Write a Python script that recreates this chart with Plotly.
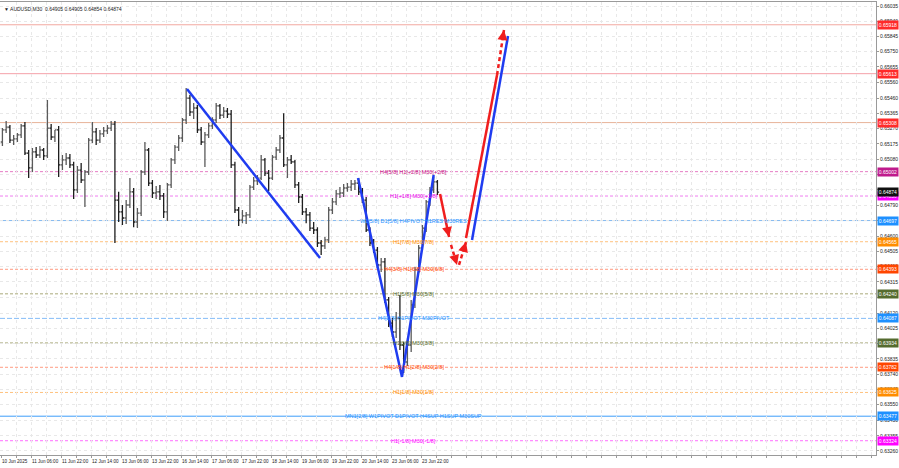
import plotly.graph_objects as go

# ---------------- data (AUDUSD M30, drawn as 2-hour bars) ----------------
opens = [0.65187,0.65262,0.65280,0.65199,0.65206,0.65231,0.65287,0.65118,0.65025,0.65125,
         0.65106,0.65137,0.65100,0.65274,0.65218,0.65262,0.65044,0.65075,0.65087,0.65044,
         0.64888,0.65012,0.64950,0.65000,0.65199,0.65250,0.65199,0.65237,0.65256,0.65274,
         0.65299,0.64825,0.64751,0.64713,0.64794,0.64876,0.64688,0.64744,0.65000,0.65137,
         0.64931,0.64869,0.64876,0.64851,0.64751,0.64919,0.65075,0.65155,0.65212,0.65324,
         0.65461,0.65374,0.65399,0.65262,0.65187,0.65231,0.65287,0.65324,0.65412,0.65355,
         0.65380,0.65361,0.65044,0.64763,0.64700,0.64726,0.64732,0.64906,0.64944,0.64962,
         0.65075,0.64993,0.64962,0.65093,0.65137,0.65212,0.65044,0.65075,0.65063,0.64919,
         0.64844,0.64751,0.64732,0.64650,0.64638,0.64557,0.64539,0.64576,0.64763,0.64813,
         0.64863,0.64869,0.64900,0.64906,0.64925,0.64931,0.64876,0.64825,0.64638,0.64557,
         0.64513,0.64420,0.64439,0.64202,0.64058,0.64002,0.64089,0.63921,0.63815,0.63921,
         0.64171,0.64389,0.64526,0.64650,0.64813,0.64888,0.64938]
highs = [0.65274,0.65318,0.65293,0.65231,0.65243,0.65299,0.65312,0.65137,0.65149,0.65155,
         0.65162,0.65149,0.65449,0.65299,0.65262,0.65287,0.65106,0.65118,0.65112,0.65063,
         0.65038,0.65056,0.65012,0.65212,0.65312,0.65274,0.65262,0.65280,0.65293,0.65318,
         0.65318,0.64876,0.64794,0.64825,0.64962,0.64900,0.64775,0.65012,0.65187,0.65149,
         0.64950,0.64913,0.64919,0.64869,0.64931,0.65087,0.65168,0.65231,0.65336,0.65524,
         0.65480,0.65430,0.65418,0.65280,0.65250,0.65305,0.65342,0.65430,0.65424,0.65405,
         0.65399,0.65386,0.65063,0.64781,0.64763,0.64751,0.64919,0.64968,0.64981,0.65106,
         0.65087,0.65012,0.65106,0.65155,0.65231,0.65367,0.65093,0.65106,0.65075,0.64938,
         0.64863,0.64775,0.64751,0.64688,0.64656,0.64576,0.64594,0.64781,0.64838,0.64888,
         0.64906,0.64925,0.64931,0.64950,0.64950,0.64962,0.64900,0.64844,0.64656,0.64582,
         0.64532,0.64463,0.64463,0.64220,0.64089,0.64126,0.64233,0.63940,0.63952,0.64202,
         0.64407,0.64545,0.64669,0.64825,0.64906,0.64968,0.64950]
lows = [0.65162,0.65243,0.65180,0.65168,0.65187,0.65212,0.65106,0.64962,0.65000,0.65087,
        0.65087,0.65075,0.65087,0.65199,0.65187,0.64968,0.65012,0.65044,0.65025,0.64832,
        0.64869,0.64931,0.64781,0.64981,0.65180,0.65168,0.65180,0.65218,0.65237,0.65256,
        0.64557,0.64688,0.64669,0.64675,0.64775,0.64656,0.64650,0.64726,0.64981,0.64913,
        0.64838,0.64832,0.64825,0.64713,0.64694,0.64900,0.65050,0.65131,0.65187,0.65299,
        0.65349,0.65330,0.65243,0.65168,0.65031,0.65212,0.65268,0.65305,0.65330,0.65336,
        0.65336,0.65025,0.64744,0.64663,0.64681,0.64675,0.64713,0.64888,0.64919,0.64950,
        0.64975,0.64882,0.64950,0.65075,0.65118,0.65031,0.64962,0.65050,0.64900,0.64806,
        0.64732,0.64681,0.64632,0.64613,0.64532,0.64482,0.64520,0.64557,0.64738,0.64794,
        0.64838,0.64844,0.64876,0.64882,0.64888,0.64857,0.64806,0.64626,0.64539,0.64494,
        0.64401,0.64376,0.64183,0.64033,0.63971,0.63965,0.63890,0.63746,0.63790,0.63877,
        0.64152,0.64370,0.64513,0.64626,0.64788,0.64869,0.64857]
closes = [0.65262,0.65280,0.65199,0.65206,0.65231,0.65287,0.65118,0.65025,0.65125,0.65106,
          0.65137,0.65100,0.65274,0.65218,0.65262,0.65044,0.65075,0.65087,0.65044,0.64888,
          0.65012,0.64950,0.65000,0.65199,0.65250,0.65199,0.65237,0.65256,0.65274,0.65299,
          0.64825,0.64751,0.64713,0.64794,0.64876,0.64688,0.64744,0.65000,0.65137,0.64931,
          0.64869,0.64876,0.64851,0.64751,0.64919,0.65075,0.65155,0.65212,0.65324,0.65461,
          0.65374,0.65399,0.65262,0.65187,0.65231,0.65287,0.65324,0.65412,0.65355,0.65380,
          0.65361,0.65044,0.64763,0.64700,0.64726,0.64732,0.64906,0.64944,0.64962,0.65075,
          0.64993,0.64962,0.65093,0.65137,0.65212,0.65044,0.65075,0.65063,0.64919,0.64844,
          0.64751,0.64732,0.64650,0.64638,0.64557,0.64539,0.64576,0.64763,0.64813,0.64863,
          0.64869,0.64900,0.64906,0.64925,0.64931,0.64876,0.64825,0.64638,0.64557,0.64513,
          0.64420,0.64439,0.64202,0.64058,0.64002,0.64089,0.63921,0.63815,0.63921,0.64171,
          0.64389,0.64526,0.64650,0.64813,0.64888,0.64938,0.64874]

# time axis labels (every 32 M30 bars)
time_labels = ["10 Jun 2025", "11 Jun 06:00", "11 Jun 22:00", "12 Jun 14:00", "13 Jun 06:00",
               "13 Jun 22:00", "16 Jun 14:00", "17 Jun 06:00", "17 Jun 22:00", "18 Jun 14:00",
               "19 Jun 06:00", "19 Jun 22:00", "20 Jun 14:00", "23 Jun 06:00", "23 Jun 22:00"]

# price axis
price_ticks = [0.66035, 0.65940, 0.65845, 0.65750, 0.65655, 0.65560, 0.65460, 0.65365, 0.65270,
               0.65175, 0.65080, 0.64985, 0.64890, 0.64790, 0.64695, 0.64600, 0.64505, 0.64410,
               0.64315, 0.64220, 0.64120, 0.64025, 0.63930, 0.63835, 0.63740, 0.63645, 0.63550,
               0.63450, 0.63355, 0.63260]
hidden_ticks = [0.64985, 0.64890, 0.64695, 0.64220, 0.63930]

# Murrey levels
level_prices = [0.65918, 0.65613, 0.65308, 0.65002, 0.64850, 0.64697, 0.64565, 0.64393,
                0.64240, 0.64087, 0.63934, 0.63782, 0.63625, 0.63477, 0.63324]
level_labels = ["", "", "", "H4[5/8] H1[+2/8] M30[+2/8]", "H1[+1/8] M30[+1/8]",
                "W1[5/8] D1[5/8] H4PIVOT H1RES M30RES", "H1[7/8] M30[7/8]",
                "H4[3/8] H1[6/8] M30[6/8]", "H1[5/8] M30[5/8]", "H4[2/8] H1PIVOT M30PIVOT",
                "H1[3/8] M30[3/8]", "H4[1/8] H1[2/8] M30[2/8]", "H1[1/8] M30[1/8]",
                "MN1[2/8] W1PIVOT D1PIVOT H4SUP H1SUP M30SUP", "H1[-1/8] M30[-1/8]"]
current_price = 0.64874
title_text = "AUDUSD,M30  0.64905 0.64905 0.64854 0.64874"

# drawn wave lines (M30 bar index, price)
wave_a_bar = [198.4, 340.3]
wave_a_price = [0.65517, 0.64463]
wave_b_bar = [380.8, 427.7, 461.5]
wave_b_price = [0.64962, 0.63722, 0.64981]
fc1_bar, fc1_price = [468.3, 477.9], [0.64863, 0.64594]
fc2_bar, fc2_price = [480.0, 486.4], [0.64545, 0.64420]
fc3_bar, fc3_price = [488.5, 496.0], [0.64420, 0.64563]
fc4_bar, fc4_price = [496.0, 529.1], [0.64588, 0.65605]
fc5_bar, fc5_price = [529.1, 536.5], [0.65605, 0.65885]
fc6_bar, fc6_price = [502.4, 540.8], [0.64576, 0.65848]

# ---------------- styles ----------------
level_line_colors = ["#f2a8a0", "#f5a0a8", "#e8b49a", "#e67cc4", "#f07cf0", "#84b9f0", "#ffc27e",
                     "#ff9c82", "#a9a97a", "#84bcf8", "#a9a97a", "#ff9c82", "#ffc27e", "#3d9dfa",
                     "#ff6eff"]
level_dash = ["solid", "solid", "solid", "3px,2px", "3px,2px", "solid", "3px,2px", "3px,2px",
              "3px,2px", "5px,2px", "3px,2px", "3px,2px", "3px,2px", "solid", "3px,2px"]
level_box_colors = ["#ff2a2a", "#ff2a2a", "#ff2a2a", "#bf1a8c", "#ff00ff", "#1e90ff", "#ff8c00",
                    "#ff4500", "#556b2f", "#1e90ff", "#556b2f", "#ff4500", "#ff8c00", "#1e90ff",
                    "#ff00ff"]
level_text_colors = ["#ff2a2a", "#ff2a2a", "#ff2a2a", "#c71585", "#e800e8", "#1e90ff", "#ff8c00",
                     "#ff4500", "#556b2f", "#1e90ff", "#556b2f", "#ff4500", "#ff8c00", "#1e90ff",
                     "#ff00ff"]
FONT = "Liberation Sans"
BLUE = "#1f3cf0"
RED = "#f01e1e"

bars = [4 * k + 1.5 for k in range(len(closes))]

fig = go.Figure()

# horizontal Murrey lines
for p, c, d in zip(level_prices, level_line_colors, level_dash):
    fig.add_shape(type="line", xref="paper", x0=0, x1=1, yref="y", y0=p, y1=p,
                  line=dict(color=c, width=1, dash=d), layer="below")

fig.add_trace(go.Ohlc(
    x=bars, open=opens, high=highs, low=lows, close=closes,
    increasing=dict(line=dict(color="#5a5a5a", width=1.3)),
    decreasing=dict(line=dict(color="#1e1e1e", width=1.3)),
    tickwidth=0.45, hoverinfo="skip", showlegend=False))

def seg(xs, ys, color, dash="solid", width=2.5):
    fig.add_trace(go.Scatter(x=xs, y=ys, mode="lines", hoverinfo="skip", showlegend=False,
                             line=dict(color=color, width=width, dash=dash)))

def head(xs, ys, color):
    x0, x1 = xs[-2], xs[-1]
    y0, y1 = ys[-2], ys[-1]
    fig.add_annotation(x=x1, y=y1, ax=x1 - 0.25 * (x1 - x0), ay=y1 - 0.25 * (y1 - y0),
                       xref="x", yref="y", axref="x", ayref="y", text="", showarrow=True,
                       arrowhead=2, arrowsize=1.0, arrowwidth=2, arrowcolor=color, standoff=0)

seg(wave_a_bar, wave_a_price, BLUE)
seg(wave_b_bar, wave_b_price, BLUE)
seg(fc1_bar, fc1_price, RED); head(fc1_bar, fc1_price, RED)
seg(fc2_bar, fc2_price, RED, "4px,3px"); head(fc2_bar, fc2_price, RED)
seg(fc3_bar, fc3_price, RED, "4px,3px"); head(fc3_bar, fc3_price, RED)
seg(fc4_bar, fc4_price, RED)
seg(fc5_bar, fc5_price, RED, "4px,3px"); head(fc5_bar, fc5_price, RED)
seg(fc6_bar, fc6_price, BLUE)

# level labels (drawn across their lines, as in the terminal)
for p, t, c in zip(level_prices, level_labels, level_text_colors):
    if t:
        fig.add_annotation(x=440.5, y=p, xref="x", yref="y", text=t, showarrow=False,
                           xanchor="center", yanchor="middle", yshift=0,
                           font=dict(family=FONT, size=5.5, color=c))

# right-axis price boxes
box_prices = level_prices + [current_price]
box_colors = level_box_colors + ["#101010"]
for p, c in zip(box_prices, box_colors):
    fig.add_annotation(x=1, y=p, xref="paper", yref="y", text=f"{p:.5f}", showarrow=False,
                       xanchor="left", yanchor="middle", xshift=1, bgcolor=c, borderpad=0.8,
                       font=dict(family=FONT, size=5, color="white"))

# time labels
for i, t in enumerate(time_labels):
    fig.add_annotation(x=32 * i, y=0, xref="x", yref="paper", text=t, showarrow=False,
                       xanchor="left", yanchor="top", yshift=-2, xshift=-1,
                       font=dict(family=FONT, size=4.6, color="#222"))

# title
fig.add_annotation(x=0, y=1, xref="paper", yref="paper", text="▼ " + title_text,
                   showarrow=False, xanchor="left", yanchor="top", xshift=2, yshift=-2,
                   font=dict(family=FONT, size=5, color="#222"))

tick_text = ["" if v in hidden_ticks else f"{v:.5f}" for v in price_ticks]

fig.update_layout(
    width=899, height=468, margin=dict(l=0, r=23, t=2, b=13),
    paper_bgcolor="white", plot_bgcolor="white", showlegend=False,
    font=dict(family=FONT, size=5, color="#222"),
    xaxis=dict(range=[-1.07, 933.3], tickvals=list(range(0, 934, 16)), showticklabels=False,
               showgrid=True, gridcolor="#e8e8e8", griddash="dot", gridwidth=1,
               showline=True, linecolor="#9a9a9a", mirror=True, ticks="outside", ticklen=2,
               tickcolor="#9a9a9a", zeroline=False, rangeslider=dict(visible=False)),
    yaxis=dict(side="right", range=[0.63235, 0.66060], tickvals=price_ticks, ticktext=tick_text,
               tickfont=dict(family=FONT, size=5, color="#222"), showgrid=True,
               gridcolor="#e8e8e8", griddash="dot", gridwidth=1, showline=True,
               linecolor="#9a9a9a", mirror=True, ticks="outside", ticklen=2,
               tickcolor="#9a9a9a", zeroline=False, automargin=False),
)

fig.write_html("out.html", config={"displayModeBar": False},
               post_script="document.body.style.margin='0px';document.body.style.overflow='hidden';")
